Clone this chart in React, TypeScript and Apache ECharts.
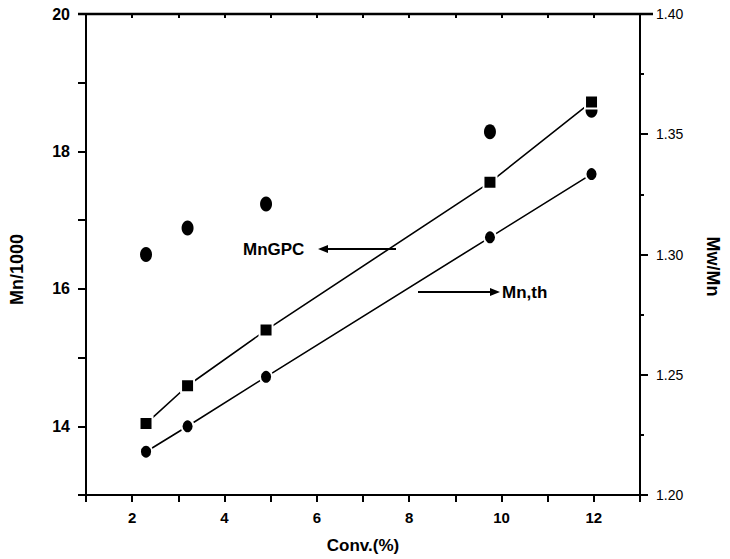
import React, { useEffect, useRef } from "react";
import * as echarts from "echarts";

const conversion = [2.3, 3.2, 4.9, 9.75, 11.95];
const mnGpc = [14.04, 14.59, 15.4, 17.55, 18.72];
const mnTh = [13.63, 14.0, 14.72, 16.75, 17.67];
const mwMn = [1.3, 1.311, 1.321, 1.351, 1.36];

const FONT = "Arial, 'Liberation Sans', sans-serif";
const BLACK = "#000";

const evenOnly = (v: number) => (Math.round(v) % 2 === 0 ? String(Math.round(v)) : "");

export default function App() {
  const ref = useRef<HTMLDivElement>(null);
  useEffect(() => {
    document.body.style.margin = "0";
    if (!ref.current) return;
    const chart = echarts.init(ref.current, null, { renderer: "svg" });
    const pairs = (ys: number[]) => conversion.map((x, i) => [x, ys[i]]);
    const line = () => ({ color: BLACK, width: 2 });
    chart.setOption({
      animation: false,
      backgroundColor: "#fff",
      grid: {
        left: 79,
        right: 78,
        top: 14,
        bottom: 56,
        containLabel: false,
        show: true,
        borderColor: BLACK,
        borderWidth: 2,
        backgroundColor: "transparent",
      },
      xAxis: [
        {
          type: "value",
          position: "bottom",
          min: 1,
          max: 13,
          interval: 1,
          splitLine: { show: false },
          axisLine: { show: true, onZero: false, lineStyle: line() },
          axisTick: { show: true, length: 7, lineStyle: line() },
          axisLabel: {
            margin: 15,
            color: BLACK,
            fontSize: 15,
            fontWeight: "bold",
            fontFamily: FONT,
            formatter: evenOnly,
          },
          name: "Conv.(%)",
          nameLocation: "middle",
          nameGap: 42,
          nameTextStyle: { color: BLACK, fontSize: 17, fontWeight: "bold", fontFamily: FONT },
        },
        {
          type: "value",
          position: "top",
          min: 1,
          max: 13,
          interval: 1,
          splitLine: { show: false },
          axisLine: { show: true, onZero: false, lineStyle: line() },
          axisTick: { show: true, inside: true, length: 4, lineStyle: line() },
          axisLabel: { show: false },
        },
      ],
      yAxis: [
        {
          type: "value",
          position: "left",
          min: 13,
          max: 20,
          interval: 1,
          splitLine: { show: false },
          axisLine: { show: true, onZero: false, lineStyle: line() },
          axisTick: { show: true, length: 8, lineStyle: line() },
          axisLabel: {
            margin: 16,
            color: BLACK,
            fontSize: 16,
            fontWeight: "bold",
            fontFamily: FONT,
            formatter: evenOnly,
          },
          name: "Mn/1000",
          nameLocation: "middle",
          nameGap: 60,
          nameRotate: 90,
          nameTextStyle: {
            color: BLACK,
            fontSize: 18,
            fontWeight: "bold",
            fontFamily: FONT,
            padding: [0, 30, 0, 0],
          },
        },
        {
          type: "value",
          position: "right",
          min: 1.2,
          max: 1.4,
          interval: 0.05,
          splitLine: { show: false },
          axisLine: { show: true, onZero: false, lineStyle: line() },
          axisTick: { show: true, length: 8, lineStyle: line() },
          minorTick: { show: true, splitNumber: 2, length: 4, lineStyle: line() },
          axisLabel: {
            margin: 16,
            color: BLACK,
            fontSize: 14,
            fontFamily: FONT,
            formatter: (v: number) => v.toFixed(2),
          },
          name: "Mw/Mn",
          nameLocation: "middle",
          nameGap: 64,
          nameRotate: -90,
          nameTextStyle: {
            color: BLACK,
            fontSize: 18,
            fontWeight: "bold",
            fontFamily: FONT,
            padding: [0, 0, 0, 24],
          },
        },
      ],
      series: [
        {
          name: "Mn,th",
          type: "line",
          xAxisIndex: 0,
          yAxisIndex: 0,
          data: pairs(mnTh),
          symbol: "circle",
          symbolSize: [12, 14],
          lineStyle: { color: BLACK, width: 1.6 },
          itemStyle: { color: BLACK, borderColor: "#fff", borderWidth: 2, opacity: 1 },
        },
        {
          name: "MnGPC",
          type: "line",
          xAxisIndex: 0,
          yAxisIndex: 0,
          data: pairs(mnGpc),
          symbol: "rect",
          symbolSize: 13,
          lineStyle: { color: BLACK, width: 1.6 },
          itemStyle: { color: BLACK, borderColor: "#fff", borderWidth: 2, opacity: 1 },
        },
        {
          name: "Mw/Mn",
          type: "scatter",
          xAxisIndex: 0,
          yAxisIndex: 1,
          data: pairs(mwMn),
          symbol: "circle",
          symbolSize: [12, 15],
          itemStyle: { color: BLACK, opacity: 1 },
        },
      ],
      graphic: [
        {
          type: "line",
          z: 100,
          shape: { x1: 78, y1: 14, x2: 653, y2: 14 },
          style: { stroke: BLACK, lineWidth: 2.5 },
        },
        {
          type: "text",
          x: 243,
          y: 249,
          style: {
            text: "MnGPC",
            fill: BLACK,
            font: `bold 17px ${FONT}`,
            verticalAlign: "middle",
          },
        },
        { type: "line", shape: { x1: 324, y1: 249, x2: 396, y2: 249 }, style: { stroke: BLACK, lineWidth: 2 } },
        { type: "polygon", shape: { points: [[318, 249], [328, 245], [328, 253]] }, style: { fill: BLACK } },
        { type: "line", shape: { x1: 418, y1: 292, x2: 492, y2: 292 }, style: { stroke: BLACK, lineWidth: 2 } },
        { type: "polygon", shape: { points: [[500, 292], [490, 288], [490, 296]] }, style: { fill: BLACK } },
        {
          type: "text",
          x: 502,
          y: 292,
          style: {
            text: "Mn,th",
            fill: BLACK,
            font: `bold 17px ${FONT}`,
            verticalAlign: "middle",
          },
        },
      ],
    });
    return () => chart.dispose();
  }, []);
  return <div ref={ref} style={{ width: 730, height: 559 }} />;
}
